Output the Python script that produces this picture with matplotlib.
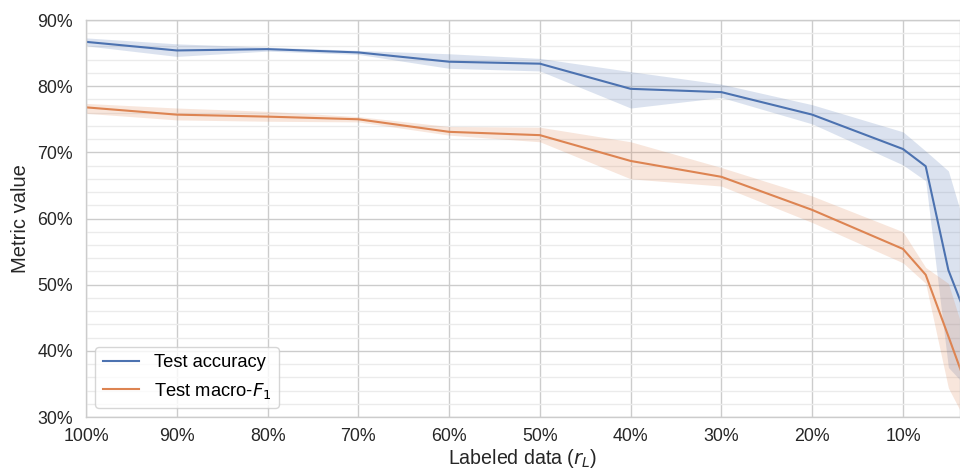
import matplotlib
matplotlib.use("Agg")
import matplotlib.pyplot as plt
from matplotlib.ticker import MultipleLocator, FuncFormatter

# Labeled data fraction (%)
labeled = [100, 90, 80, 70, 60, 50, 40, 30, 20, 10, 7.5, 5, 2.5]

# Test accuracy (%): mean and band
acc_mean = [86.7, 85.4, 85.6, 85.1, 83.7, 83.4, 79.6, 79.1, 75.7, 70.5, 67.9, 52.2, 43.4]
acc_low  = [86.1, 84.5, 85.3, 84.8, 82.7, 82.3, 76.7, 78.3, 74.3, 68.1, 65.7, 37.5, 33.8]
acc_high = [87.3, 86.4, 85.9, 85.4, 84.9, 84.2, 82.2, 80.3, 77.2, 73.1, 70.2, 67.2, 55.7]

# Test macro-F1 (%): mean and band
f1_mean = [76.8, 75.7, 75.4, 75.0, 73.1, 72.6, 68.7, 66.3, 61.3, 55.4, 51.5, 42.2, 32.8]
f1_low  = [75.9, 74.9, 74.7, 74.6, 72.6, 71.6, 66.0, 64.9, 59.4, 53.3, 50.2, 34.4, 27.8]
f1_high = [77.4, 76.7, 76.2, 75.4, 73.9, 73.8, 71.6, 67.7, 63.4, 58.0, 52.6, 50.2, 39.3]

xticks = [100, 90, 80, 70, 60, 50, 40, 30, 20, 10]

plt.rcParams['font.family'] = ['Liberation Sans', 'DejaVu Sans']
plt.rcParams['font.size'] = 13
plt.rcParams['mathtext.fontset'] = 'dejavusans'

blue = '#4C72B0'
orange = '#DD8452'

fig = plt.figure(figsize=(9.6, 4.71), dpi=100)
ax = fig.add_axes([0.0896, 0.1146, 0.9104, 0.8429])

ax.fill_between(labeled, acc_low, acc_high, color=blue, alpha=0.2, linewidth=0)
ax.fill_between(labeled, f1_low, f1_high, color=orange, alpha=0.2, linewidth=0)
ax.plot(labeled, acc_mean, color=blue, lw=1.5, label='Test accuracy')
ax.plot(labeled, f1_mean, color=orange, lw=1.5, label='Test macro-$F_1$')

ax.set_xlim(100, 3.72)
ax.set_ylim(30, 90)
ax.set_xticks(xticks)
ax.xaxis.set_major_formatter(FuncFormatter(lambda v, p: f"{v:.0f}%"))
ax.yaxis.set_major_locator(MultipleLocator(10))
ax.yaxis.set_minor_locator(MultipleLocator(2))
ax.yaxis.set_major_formatter(FuncFormatter(lambda v, p: f"{v:.0f}%"))

ax.set_axisbelow(True)
ax.grid(True, which='major', color='#cccccc', lw=1.0)
ax.grid(True, which='minor', axis='y', color='#ebebeb', lw=1.0)
ax.tick_params(which='both', length=0, labelsize=12.8, colors='#262626')
ax.tick_params(axis='x', pad=8)
ax.tick_params(axis='y', pad=9.5)
for s in ax.spines.values():
    s.set_color('#cccccc')
    s.set_linewidth(1.0)

ax.set_xlabel('Labeled data ($r_L$)', fontsize=14.1, color='#262626', labelpad=1.5)
ax.set_ylabel('Metric value', fontsize=14.5, color='#262626', labelpad=5)

leg = ax.legend(loc='lower left', frameon=True, fontsize=13.2)
leg.get_frame().set_edgecolor('#cccccc')
leg.get_frame().set_facecolor('white')
leg.get_frame().set_alpha(0.8)

fig.savefig('out.png', dpi=100)
